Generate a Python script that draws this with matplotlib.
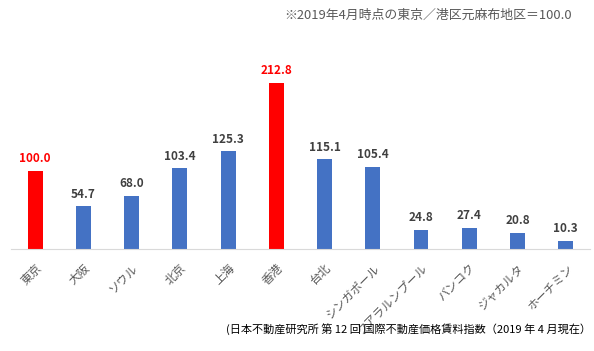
import matplotlib.pyplot as plt

plt.rcParams['font.family'] = ['Noto Sans CJK JP', 'DejaVu Sans']

cities = ['東京', '大阪', 'ソウル', '北京', '上海', '香港', '台北', 'シンガポール',
          'クアラルンプール', 'バンコク', 'ジャカルタ', 'ホーチミン']
values = [100.0, 54.7, 68.0, 103.4, 125.3, 212.8, 115.1, 105.4, 24.8, 27.4, 20.8, 10.3]
highlight = ['東京', '香港']

blue = '#4472c4'
red = '#ff0000'
colors = [red if c in highlight else blue for c in cities]

fig = plt.figure(figsize=(5.94, 3.51), dpi=100)
ax = fig.add_axes([0.0185, 0.2906, 0.9745, 0.61])

x = range(len(cities))
ax.bar(x, values, width=0.31, color=colors)

for i, v in enumerate(values):
    c = red if cities[i] in highlight else '#404040'
    ax.text(i, v + 7, f'{v:.1f}', ha='center', va='bottom', fontsize=8.5,
            fontweight='bold', color=c)

ax.set_xlim(-0.5, len(cities) - 0.5)
ax.set_ylim(0, 274)
ax.set_yticks([])
ax.set_xticks(list(x))
ax.set_xticklabels(cities, rotation=45, ha='right', rotation_mode='anchor',
                   fontsize=8.5, color='#595959')
ax.tick_params(axis='x', length=0, pad=9)
for s in ['top', 'right', 'left']:
    ax.spines[s].set_visible(False)
ax.spines['bottom'].set_color('#d9d9d9')

fig.text(0.963, 0.955, '※2019年4月時点の東京／港区元麻布地区＝100.0',
         ha='right', va='center', fontsize=9.3, color='#595959')
fig.text(0.995, 0.062, '(日本不動産研究所 第 12 回 国際不動産価格賃料指数（2019 年 4 月現在）',
         ha='right', va='center', fontsize=8, color='#000000')

fig.savefig('out.png', dpi=100)
